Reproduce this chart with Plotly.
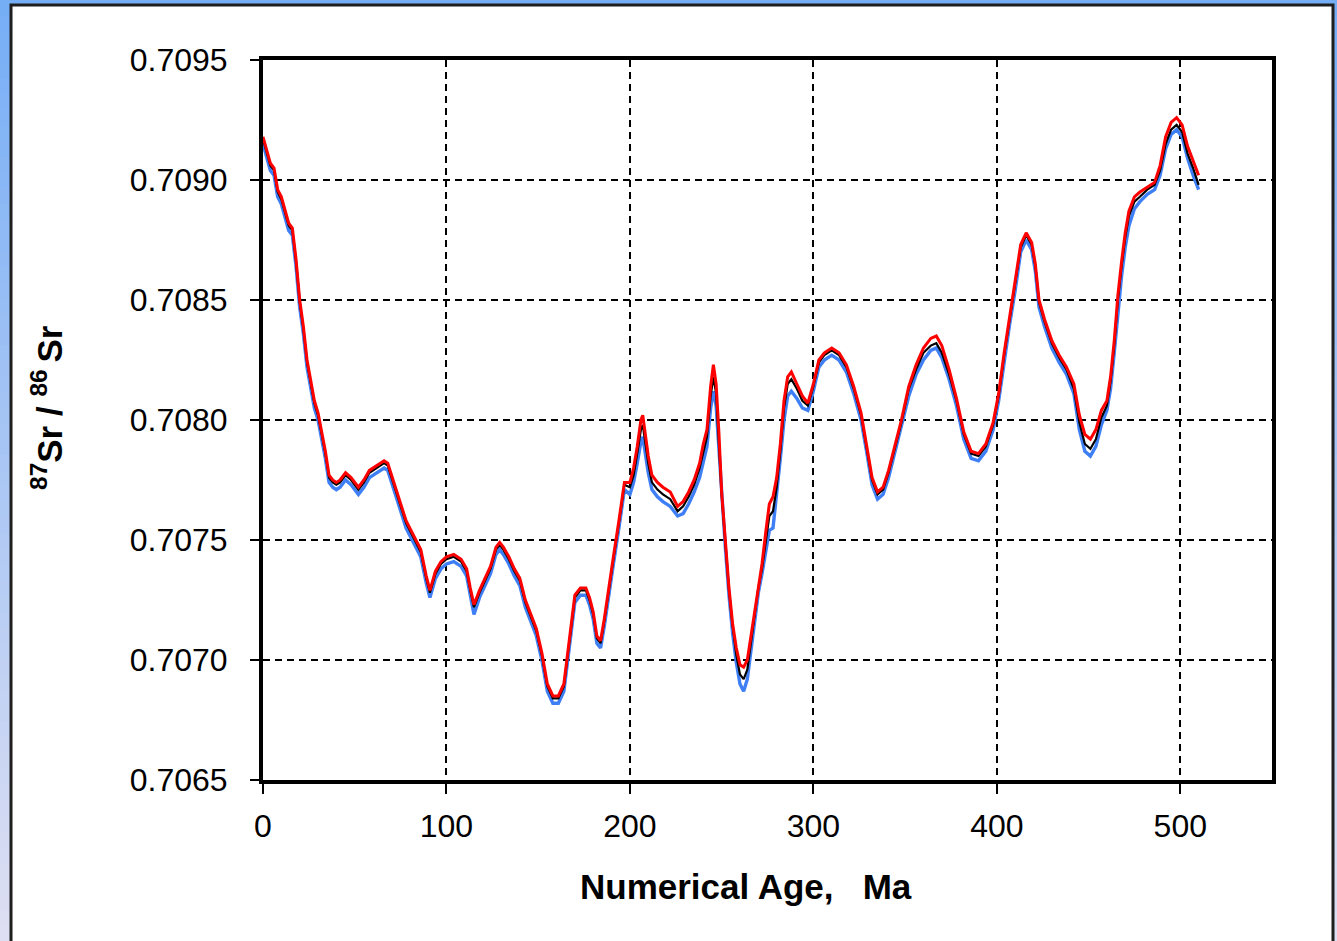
import plotly.graph_objects as go

# Seawater 87Sr/86Sr curve: upper, central and lower estimates vs. numerical age (Ma)
age_ma = [0, 2, 4, 6, 8, 10, 12, 14, 16, 18, 20, 22, 24, 26, 28, 30, 32, 34, 36, 38,
          40, 42, 45, 48, 52, 55, 58, 62, 66, 68, 70, 72, 75, 78, 82, 86, 89, 91, 94, 97,
          100, 104, 108, 111, 113, 115, 118, 121, 124, 127, 129, 131, 134, 137, 140, 143,
          146, 149, 152, 155, 158, 161, 164, 166, 168, 170, 173, 176, 178, 180, 182, 184,
          186, 188, 191, 194, 197, 200, 202, 204, 206, 207, 208, 210, 212, 215, 218, 222,
          226, 229, 232, 235, 238, 240, 242, 244, 245.5, 247, 248.5, 250, 252, 254, 256,
          258, 260, 262, 264, 266, 268, 270, 272, 274, 276, 278, 280, 282, 284, 286, 288,
          291, 294, 297, 300, 303, 306, 310, 314, 318, 322, 326, 329, 332, 335, 338, 341,
          344, 348, 352, 356, 360, 364, 367, 370, 374, 378, 382, 386, 390, 394, 398, 401,
          404, 407, 410, 413, 416, 419, 421, 423, 426, 430, 434, 438, 442, 445, 448, 451,
          454, 457, 460, 462, 464, 466, 468, 470, 472, 475, 478, 482, 486, 489, 492, 495,
          498, 501, 504, 507, 510]

sr_upper = [0.70918, 0.70913, 0.70907, 0.70905, 0.70896, 0.70893, 0.70888, 0.70882, 0.70880, 0.70867,
            0.70850, 0.70839, 0.70825, 0.70817, 0.70808, 0.70803, 0.70795, 0.70787, 0.70777, 0.70775,
            0.70774, 0.70775, 0.70778, 0.70776, 0.70772, 0.70775, 0.70779, 0.70781, 0.70783, 0.70782,
            0.70777, 0.70773, 0.70765, 0.70758, 0.70752, 0.70746, 0.70735, 0.70729, 0.70737, 0.70741,
            0.70743, 0.70744, 0.70742, 0.70738, 0.70730, 0.70723, 0.70729, 0.70734, 0.70739, 0.70747,
            0.70749, 0.70747, 0.70743, 0.70738, 0.70734, 0.70725, 0.70719, 0.70713, 0.70703, 0.70690,
            0.70685, 0.70685, 0.70690, 0.70703, 0.70716, 0.70727, 0.70730, 0.70730, 0.70726, 0.70720,
            0.70710, 0.70708, 0.70717, 0.70728, 0.70743, 0.70758, 0.70774, 0.70774, 0.70780, 0.70789,
            0.70800, 0.70802, 0.70796, 0.70785, 0.70777, 0.70774, 0.70772, 0.70770, 0.70764, 0.70766,
            0.70770, 0.70775, 0.70782, 0.70790, 0.70796, 0.70814, 0.70823, 0.70815, 0.70795, 0.70770,
            0.70750, 0.70730, 0.70715, 0.70705, 0.70698, 0.70697, 0.70700, 0.70710, 0.70721, 0.70732,
            0.70740, 0.70753, 0.70765, 0.70768, 0.70776, 0.70790, 0.70808, 0.70818, 0.70820, 0.70815,
            0.70810, 0.70807, 0.70815, 0.70825, 0.70828, 0.70830, 0.70828, 0.70823, 0.70814, 0.70803,
            0.70790, 0.70776, 0.70770, 0.70772, 0.70779, 0.70788, 0.70800, 0.70814, 0.70823, 0.70830,
            0.70834, 0.70835, 0.70831, 0.70821, 0.70809, 0.70795, 0.70787, 0.70786, 0.70790, 0.70799,
            0.70811, 0.70828, 0.70843, 0.70857, 0.70873, 0.70878, 0.70874, 0.70865, 0.70850, 0.70842,
            0.70833, 0.70827, 0.70822, 0.70815, 0.70802, 0.70794, 0.70792, 0.70796, 0.70804, 0.70808,
            0.70818, 0.70833, 0.70852, 0.70866, 0.70878, 0.70887, 0.70893, 0.70895, 0.70897, 0.70899,
            0.70906, 0.70918, 0.70924, 0.70926, 0.70923, 0.70914, 0.70908, 0.70902]

sr_mean = [0.70917, 0.70912, 0.70906, 0.70904, 0.70895, 0.70892, 0.70887, 0.70881, 0.70879, 0.70866,
           0.70849, 0.70838, 0.70824, 0.70816, 0.70807, 0.70802, 0.70794, 0.70786, 0.70776, 0.70774,
           0.70773, 0.70774, 0.70777, 0.70775, 0.70771, 0.70774, 0.70778, 0.70780, 0.70782, 0.70781,
           0.70776, 0.70772, 0.70764, 0.70757, 0.70751, 0.70745, 0.70734, 0.70728, 0.70736, 0.70740,
           0.70742, 0.70743, 0.70741, 0.70737, 0.70729, 0.70722, 0.70728, 0.70733, 0.70738, 0.70746,
           0.70748, 0.70746, 0.70742, 0.70737, 0.70733, 0.70724, 0.70718, 0.70712, 0.70702, 0.70689,
           0.70684, 0.70684, 0.70689, 0.70702, 0.70715, 0.70726, 0.70729, 0.70729, 0.70725, 0.70719,
           0.70709, 0.70707, 0.70716, 0.70727, 0.70742, 0.70757, 0.70773, 0.70772, 0.70777, 0.70786,
           0.70796, 0.70798, 0.70792, 0.70782, 0.70774, 0.70771, 0.70769, 0.70767, 0.70762, 0.70764,
           0.70768, 0.70773, 0.70780, 0.70787, 0.70793, 0.70810, 0.70818, 0.70811, 0.70792, 0.70769,
           0.70749, 0.70729, 0.70714, 0.70702, 0.70694, 0.70692, 0.70696, 0.70707, 0.70719, 0.70730,
           0.70738, 0.70750, 0.70760, 0.70762, 0.70772, 0.70787, 0.70805, 0.70815, 0.70817, 0.70813,
           0.70808, 0.70806, 0.70814, 0.70824, 0.70827, 0.70829, 0.70827, 0.70822, 0.70813, 0.70802,
           0.70789, 0.70775, 0.70769, 0.70771, 0.70778, 0.70787, 0.70799, 0.70813, 0.70821, 0.70828,
           0.70831, 0.70832, 0.70828, 0.70819, 0.70808, 0.70794, 0.70786, 0.70785, 0.70789, 0.70798,
           0.70810, 0.70827, 0.70842, 0.70856, 0.70872, 0.70877, 0.70873, 0.70864, 0.70849, 0.70841,
           0.70832, 0.70826, 0.70821, 0.70813, 0.70799, 0.70790, 0.70788, 0.70792, 0.70801, 0.70806,
           0.70816, 0.70831, 0.70850, 0.70864, 0.70876, 0.70885, 0.70891, 0.70893, 0.70896, 0.70898,
           0.70904, 0.70915, 0.70921, 0.70923, 0.70920, 0.70911, 0.70905, 0.70898]

sr_lower = [0.70915, 0.70910, 0.70904, 0.70902, 0.70893, 0.70890, 0.70885, 0.70879, 0.70877, 0.70864,
            0.70847, 0.70836, 0.70822, 0.70814, 0.70805, 0.70800, 0.70792, 0.70784, 0.70774, 0.70772,
            0.70771, 0.70772, 0.70775, 0.70773, 0.70769, 0.70772, 0.70776, 0.70778, 0.70780, 0.70779,
            0.70774, 0.70770, 0.70762, 0.70755, 0.70749, 0.70743, 0.70732, 0.70726, 0.70734, 0.70738,
            0.70740, 0.70741, 0.70739, 0.70735, 0.70727, 0.70719, 0.70726, 0.70731, 0.70736, 0.70744,
            0.70746, 0.70744, 0.70740, 0.70735, 0.70731, 0.70722, 0.70716, 0.70710, 0.70700, 0.70687,
            0.70682, 0.70682, 0.70687, 0.70700, 0.70713, 0.70724, 0.70727, 0.70727, 0.70723, 0.70717,
            0.70707, 0.70705, 0.70714, 0.70725, 0.70740, 0.70755, 0.70771, 0.70769, 0.70774, 0.70782,
            0.70791, 0.70793, 0.70788, 0.70778, 0.70771, 0.70768, 0.70766, 0.70764, 0.70760, 0.70761,
            0.70765, 0.70770, 0.70776, 0.70783, 0.70789, 0.70805, 0.70812, 0.70806, 0.70789, 0.70767,
            0.70747, 0.70727, 0.70711, 0.70699, 0.70690, 0.70687, 0.70692, 0.70704, 0.70717, 0.70728,
            0.70736, 0.70746, 0.70754, 0.70755, 0.70768, 0.70784, 0.70800, 0.70810, 0.70812, 0.70809,
            0.70805, 0.70804, 0.70812, 0.70822, 0.70825, 0.70827, 0.70825, 0.70820, 0.70811, 0.70800,
            0.70787, 0.70773, 0.70767, 0.70769, 0.70776, 0.70785, 0.70797, 0.70810, 0.70819, 0.70825,
            0.70829, 0.70830, 0.70826, 0.70817, 0.70806, 0.70792, 0.70784, 0.70783, 0.70787, 0.70796,
            0.70808, 0.70825, 0.70840, 0.70854, 0.70870, 0.70875, 0.70871, 0.70862, 0.70847, 0.70839,
            0.70830, 0.70824, 0.70819, 0.70811, 0.70796, 0.70787, 0.70785, 0.70789, 0.70798, 0.70804,
            0.70813, 0.70828, 0.70846, 0.70860, 0.70872, 0.70881, 0.70888, 0.70891, 0.70894, 0.70896,
            0.70902, 0.70913, 0.70919, 0.70921, 0.70918, 0.70909, 0.70902, 0.70896]

x_ticks = [0, 100, 200, 300, 400, 500]
y_ticks = [0.7065, 0.7070, 0.7075, 0.7080, 0.7085, 0.7090, 0.7095]

W, H = 1337, 941
L, R, T, B = 263, 1272, 60, 780  # plot area in pixels
FONT = "Liberation Sans, Arial, Helvetica, sans-serif"


def px_x(p):
    return (p - L) / (R - L)


def px_y(p):
    return (B - p) / (B - T)


fig = go.Figure()
fig.add_trace(go.Scatter(x=age_ma, y=sr_lower, mode="lines",
                         line=dict(color="#3f7ff5", width=3.4), showlegend=False))
fig.add_trace(go.Scatter(x=age_ma, y=sr_mean, mode="lines",
                         line=dict(color="#000000", width=2.2), showlegend=False))
fig.add_trace(go.Scatter(x=age_ma, y=sr_upper, mode="lines",
                         line=dict(color="#ff0000", width=3), showlegend=False))

# Blue gradient backdrop behind the white panel
shapes = []
n_bands = 60
top_rgb = (118, 174, 246)
bot_rgb = (222, 223, 242)
for i in range(n_bands):
    t = i / (n_bands - 1)
    c = tuple(round(top_rgb[k] + (bot_rgb[k] - top_rgb[k]) * t) for k in range(3))
    y0 = i * H / n_bands
    y1 = (i + 1) * H / n_bands + 1
    shapes.append(dict(type="rect", xref="paper", yref="paper", layer="below",
                       x0=px_x(0), x1=px_x(W), y0=px_y(y1), y1=px_y(y0),
                       line=dict(width=0), fillcolor="rgb(%d,%d,%d)" % c))
# White panel with dark frame
shapes.append(dict(type="rect", xref="paper", yref="paper", layer="below",
                   x0=px_x(11), x1=px_x(1333), y0=px_y(H + 20), y1=px_y(5),
                   line=dict(color="#1e1e1e", width=3), fillcolor="white"))

fig.update_layout(
    width=W, height=H,
    margin=dict(l=L, r=W - R, t=T, b=H - B, pad=0),
    paper_bgcolor="rgb(118,174,246)",
    plot_bgcolor="white",
    shapes=shapes,
    font=dict(family=FONT, color="black"),
    xaxis=dict(
        range=[0, 550], tickvals=x_ticks, ticktext=[str(v) for v in x_ticks],
        showgrid=True, gridcolor="black", gridwidth=2, griddash="7px,5px",
        showline=True, linecolor="black", linewidth=4, mirror=True,
        ticks="outside", ticklen=10, tickwidth=2, tickcolor="black",
        tickfont=dict(size=32, family=FONT), zeroline=False,
        ticklabelstandoff=5,
    ),
    yaxis=dict(
        range=[0.7065, 0.7095], tickvals=y_ticks,
        ticktext=["%.4f" % v for v in y_ticks],
        showgrid=True, gridcolor="black", gridwidth=2, griddash="7px,5px",
        showline=True, linecolor="black", linewidth=4, mirror=True,
        ticks="outside", ticklen=9, tickwidth=2, tickcolor="black",
        tickfont=dict(size=32, family=FONT), zeroline=False,
        ticklabelstandoff=16,
    ),
    annotations=[
        dict(text="<b>Numerical Age,&nbsp;&nbsp; Ma</b>", xref="paper", yref="paper",
             x=px_x(746), y=px_y(887), xanchor="center", yanchor="middle",
             showarrow=False, font=dict(size=35, family=FONT, color="black")),
        dict(text="<b><sup>87</sup>Sr / <sup>86 </sup>Sr</b>", xref="paper", yref="paper",
             x=px_x(47), y=px_y(408), xanchor="center", yanchor="middle",
             textangle=-90, showarrow=False,
             font=dict(size=35, family=FONT, color="black")),
    ],
)

fig.write_html("out.html")
